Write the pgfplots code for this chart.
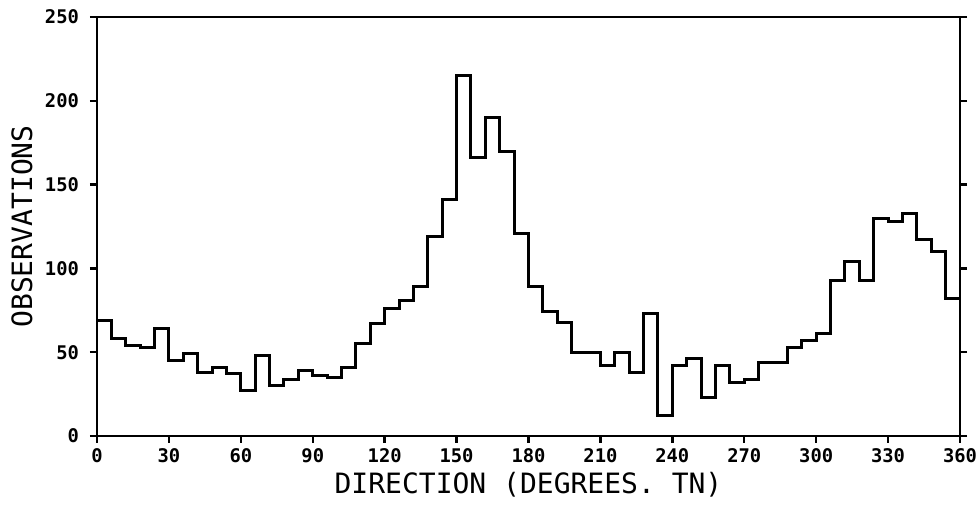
\documentclass[border=0pt]{standalone}
\usepackage{fontspec}
\usepackage{pgfplots}
\pgfplotsset{compat=1.18}
\newfontfamily\tickfont{DejaVu Sans Mono}
\newfontfamily\labelfont{DejaVu Sans Mono}
\begin{document}
\begin{tikzpicture}
\useasboundingbox (0,0) rectangle (490pt,254pt);
\begin{axis}[
  at={(48.5pt,36pt)}, anchor=south west,
  scale only axis, width=431.5pt, height=209.5pt,
  xmin=0, xmax=360, ymin=0, ymax=250,
  xtick={0,30,...,360}, ytick={0,50,...,250},
  xtick pos=lower, ytick pos=both, yticklabel pos=lower,
  tick align=outside, major tick length=3.5pt,
  axis line style={line width=1.3pt},
  every tick/.style={black, line width=1.2pt},
  /pgf/number format/assume math mode=true,
  ticklabel style={font=\tickfont\bfseries\fontsize{9.4}{10}\selectfont},
  xticklabel style={yshift=1pt},
  yticklabel style={xshift=-2pt},
  xlabel={DIRECTION (DEGREES. TN)},
  ylabel={OBSERVATIONS},
  label style={font=\labelfont\fontsize{14}{16}\selectfont},
  xlabel style={at={(axis description cs:0.5,-0.117)}, anchor=center},
  ylabel style={at={(axis description cs:-0.087,0.5)}, anchor=center, rotate=0},
  clip=false,
]
\addplot[const plot mark left, line width=1.5pt, black, mark=none] coordinates {
(0,69) (6,58) (12,54) (18,53) (24,64) (30,45) (36,49) (42,38) (48,41) (54,37)
(60,27) (66,48) (72,30) (78,34) (84,39) (90,36) (96,35) (102,41) (108,55) (114,67)
(120,76) (126,81) (132,89) (138,119) (144,141) (150,215) (156,166) (162,190) (168,170) (174,121)
(180,89) (186,74) (192,68) (198,50) (204,50) (210,42) (216,50) (222,38) (228,73) (234,12)
(240,42) (246,46) (252,23) (258,42) (264,32) (270,34) (276,44) (282,44) (288,53) (294,57)
(300,61) (306,93) (312,104) (318,93) (324,130) (330,128) (336,133) (342,117) (348,110) (354,82)
(360,82)
};
\end{axis}
\end{tikzpicture}
\end{document}
